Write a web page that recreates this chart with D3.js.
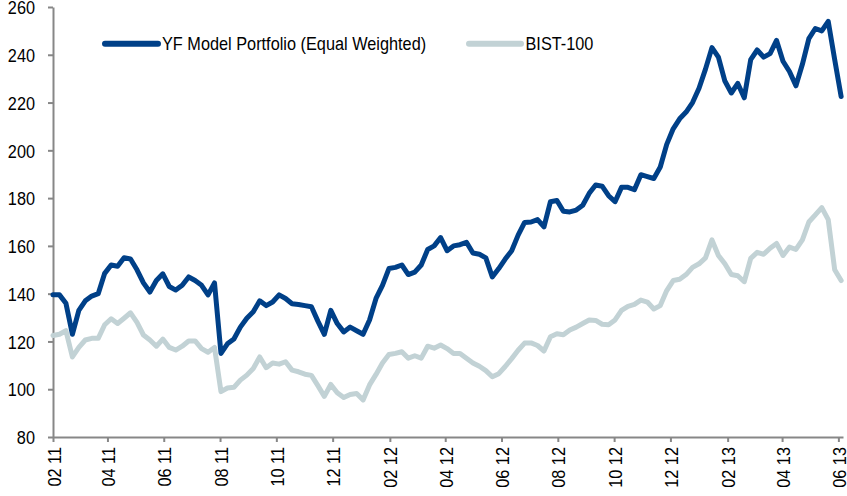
<!DOCTYPE html>
<html><head><meta charset="utf-8">
<script src="https://cdn.jsdelivr.net/npm/d3@7"></script>
<style>
html,body{margin:0;padding:0;background:#fff;}
svg{display:block;}
text{font-family:"Liberation Sans",Arial,Helvetica,sans-serif;fill:#000;}
</style></head><body>
<svg id="chart" width="847" height="496"></svg>
<script>
// ---- data ----
const startDate = "2011-02-01";   // first weekly observation
const endDate = "2013-06-06";     // end of x domain
const stepDays = 7;               // weekly observations
const seriesNames = ["YF Model Portfolio (Equal Weighted)", "BIST-100"];
const portfolio = [
 139.5,139.5,136,123,133,137,139,140,148.5,152,151.5,155,154.5,150,144.5,140.7,145.5,148.3,143,141.5,
 143.5,147,145.5,143.5,139.5,144.5,115,119,121,126,129.7,132.4,137,135,136.5,139.5,138,135.8,135.5,135,
 134.5,128.5,123,133,127.5,124,126,124.5,123,129,138,143.5,150.5,151,152,148,149,152,158.5,160,
 163.5,158,160,160.5,161.5,157,156.5,155,147,150.5,154.5,158,164.5,169.8,170,171,168,178.5,179,174.5,
 174.2,175,177,182,185.5,185,181,178.5,184.5,184.5,183.5,189.8,189,188.2,193,202.5,209,213.2,216,220,
 226,234,243,239,229,224,228,222,238,242,239,240.5,246,237.3,233,227,236,246.8,251,250,
 254,238,222.5
];
const bist = [
 122.5,123,124.5,113.5,117.5,120.6,121.3,121.3,127,129.5,127.5,129.7,132,128,122.7,120.6,118,121,117.5,116.4,
 118,120.2,120.2,117,115.5,117.5,99,100.5,100.8,103.8,105.9,108.7,113.5,109,111,110.5,111.5,108,107.3,106.3,
 105.8,101.5,97,102,98.5,96.5,97.8,98.2,95.5,101.8,106.2,111,114.5,115,115.7,113,114,113,118,117.2,
 118.5,117,115,115,113,111,109.6,107.8,105.2,106.5,109.5,112.8,116.3,119.3,119.4,118.3,116,122,123.2,122.8,
 124.8,126,127.5,129,128.8,127.2,127,129,133,134.7,135.5,137.3,136.5,133.6,135,141.3,145.5,146,148,151,
 152.5,155,162.5,156,152.5,148,147.5,145,154.8,157.3,156.5,159,161,156,159.5,158.5,162.5,170,173,176,
 171,150,145.5
];
const xTickLabels = ["02 11","04 11","06 11","08 11","10 11","12 11","02 12","04 12","06 12","08 12","10 12","12 12","02 13","04 13","06 13"];
const yTicks = [80,100,120,140,160,180,200,220,240,260];
const colors = ["#004088","#C2D2D5"];

// ---- chart ----
const svg = d3.select("#chart");
const parse = d3.utcParse("%Y-%m-%d");
const parseTick = d3.utcParse("%m %y");
const t0 = parse(startDate);
const dates = portfolio.map((_, i) => d3.utcDay.offset(t0, i * stepDays));
const tickDates = xTickLabels.map(parseTick);

const x = d3.scaleUtc().domain([t0, parse(endDate)]).range([53, 843]);
const y = d3.scaleLinear().domain([80, 260]).range([437, 7]);
const FS = 16.3, VS = 1.12;
const axisColor = "#878787";

// y axis
const gy = svg.append("g").attr("transform", "translate(53,0)")
  .call(d3.axisLeft(y).tickValues(yTicks).tickSize(5).tickSizeOuter(0).tickPadding(13));
gy.select(".domain").attr("stroke", axisColor).attr("stroke-width", 2);
gy.selectAll(".tick line").attr("stroke", axisColor).attr("stroke-width", 2);
gy.selectAll(".tick text").attr("font-size", FS).attr("fill", "#000")
  .attr("font-family", null)
  .attr("dy", "0.37em")
  .attr("transform", `scale(1,${VS})`);

// x axis
const gx = svg.append("g").attr("transform", "translate(0,437)")
  .call(d3.axisBottom(x).tickValues(tickDates).tickSize(5).tickSizeOuter(0)
        .tickFormat((d, i) => xTickLabels[i]));
gx.select(".domain").attr("stroke", axisColor).attr("stroke-width", 2);
gx.selectAll(".tick line").attr("stroke", axisColor).attr("stroke-width", 2);
gx.selectAll(".tick text").attr("font-size", FS).attr("fill", "#000")
  .attr("font-family", null)
  .attr("x", 0).attr("y", 0).attr("dy", null)
  .attr("text-anchor", "end")
  .attr("transform", `translate(7,10) rotate(-90) scale(1,${VS})`);

// lines
const line = d3.line().x((d, i) => x(dates[i])).y(d => y(d)).curve(d3.curveLinear);
[bist, portfolio].forEach((s, k) => {
  svg.append("path").datum(s)
    .attr("fill", "none")
    .attr("stroke", k === 0 ? colors[1] : colors[0])
    .attr("stroke-width", 5)
    .attr("stroke-linejoin", "round")
    .attr("stroke-linecap", "round")
    .attr("d", line);
});

// legend
const legendPos = [[105, 158, 162], [469, 521, 525.5]];
seriesNames.forEach((name, k) => {
  const [x1, x2, tx] = legendPos[k];
  svg.append("line").attr("x1", x1).attr("x2", x2).attr("y1", 43.7).attr("y2", 43.7)
    .attr("stroke", colors[k]).attr("stroke-width", 6).attr("stroke-linecap", "round");
  svg.append("text").attr("transform", `translate(${tx},49.5) scale(1,${VS})`)
    .attr("font-size", FS).text(name);
});
</script>
</body></html>
